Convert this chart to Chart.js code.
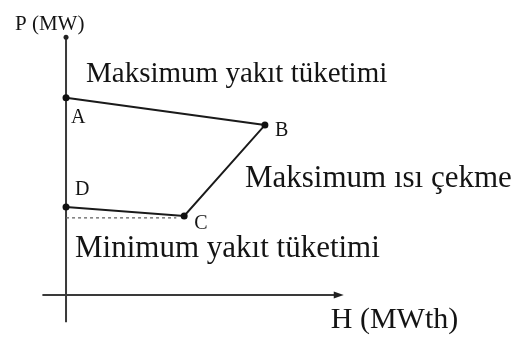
<!DOCTYPE html>
<html>
<head>
<meta charset="utf-8">
<script src="https://cdn.jsdelivr.net/npm/chart.js@4.4.1/dist/chart.umd.min.js"></script>
<style>
  html, body { margin: 0; padding: 0; background: #fff; }
  #wrap { width: 518px; height: 341px; }
</style>
</head>
<body>
<div id="wrap"><canvas id="chart" width="518" height="341"></canvas></div>
<script>
// Operating region corners (H in MWth units, P in MW units)
const pointNames = ['A', 'B', 'C', 'D'];
const heatValues = [0, 101, 60, 0];
const powerValues = [101, 87, 40.5, 45];

// Dashed minimum-fuel guide
const guideHeat = [0, 56];
const guidePower = [39.5, 39.5];

// Axis extents
const axisHeat = [-12, 139];
const axisPower = [-14, 132.5];
const viewHeat = [-31.5, 227.5];
const viewPower = [-21.5, 149];

// Texts
const axisTitles = ['P (MW)', 'H (MWth)'];
const regionTexts = ['Maksimum yakıt tüketimi', 'Maksimum ısı çekme', 'Minimum yakıt tüketimi'];

const serif = '"Liberation Serif", "Times New Roman", serif';
const ink = '#141414';

// Draw axes with arrow tips and all labels
const diagramPlugin = {
    id: 'diagram',
    beforeDatasetsDraw(chart) {
        const ctx = chart.ctx;
        const x = chart.scales.x, y = chart.scales.y;
        const x0 = x.getPixelForValue(0), y0 = y.getPixelForValue(0);
        ctx.save();
        ctx.strokeStyle = '#3a3a3a';
        ctx.lineWidth = 2;
        ctx.beginPath();
        ctx.moveTo(x.getPixelForValue(axisHeat[0]), y0);
        ctx.lineTo(x.getPixelForValue(axisHeat[1]), y0);
        ctx.moveTo(x0, y.getPixelForValue(axisPower[0]));
        ctx.lineTo(x0, y.getPixelForValue(axisPower[1]));
        ctx.stroke();
        // arrow on H axis
        const xe = x.getPixelForValue(axisHeat[1]);
        ctx.fillStyle = '#222';
        ctx.beginPath();
        ctx.moveTo(xe + 4, y0);
        ctx.lineTo(xe - 6, y0 - 3.5);
        ctx.lineTo(xe - 6, y0 + 3.5);
        ctx.closePath();
        ctx.fill();
        // tip on P axis
        const ye = y.getPixelForValue(axisPower[1]);
        ctx.beginPath();
        ctx.arc(x0, ye + 1, 2.5, 0, Math.PI * 2);
        ctx.fill();
        ctx.restore();
    },
    afterDraw(chart) {
        const ctx = chart.ctx;
        const x = chart.scales.x, y = chart.scales.y;
        const meta = chart.getDatasetMeta(0);
        const x0 = x.getPixelForValue(0), y0 = y.getPixelForValue(0);
        ctx.save();
        ctx.fillStyle = ink;
        ctx.textBaseline = 'alphabetic';
        ctx.textAlign = 'left';

        // corner letters
        const offsets = [[5, 25], [10, 11], [10, 13], [9, -12]];
        ctx.font = '20px ' + serif;
        meta.data.forEach((pt, i) => {
            ctx.fillText(pointNames[i], pt.x + offsets[i][0], pt.y + offsets[i][1]);
        });

        // axis titles
        ctx.font = '21px ' + serif;
        ctx.fillText(axisTitles[0], x0 - 51, y.getPixelForValue(axisPower[1]) - 6);
        ctx.font = '30px ' + serif;
        ctx.fillText(axisTitles[1], x.getPixelForValue(axisHeat[1]) - 9, y0 + 33);

        // region texts
        const a = meta.data[0], b = meta.data[1], c = meta.data[2];
        ctx.font = '29px ' + serif;
        ctx.fillText(regionTexts[0], a.x + 20, a.y - 16);
        ctx.font = '31px ' + serif;
        ctx.fillText(regionTexts[1], b.x - 20, b.y + 62);
        ctx.fillText(regionTexts[2], x0 + 9, c.y + 41);
        ctx.restore();
    }
};

new Chart(document.getElementById('chart'), {
    type: 'scatter',
    data: {
        datasets: [
            {
                data: pointNames.map((n, i) => ({ x: heatValues[i], y: powerValues[i] })),
                showLine: true,
                borderColor: '#1a1a1a',
                borderWidth: 2,
                pointRadius: 3.5,
                pointBackgroundColor: '#111',
                pointBorderWidth: 0
            },
            {
                data: guideHeat.map((h, i) => ({ x: h, y: guidePower[i] })),
                showLine: true,
                borderColor: '#666',
                borderWidth: 1.3,
                borderDash: [3, 3],
                pointRadius: 0
            }
        ]
    },
    options: {
        responsive: false,
        animation: false,
        layout: { padding: 0 },
        plugins: {
            legend: { display: false },
            tooltip: { enabled: false }
        },
        scales: {
            x: { type: 'linear', display: false, min: viewHeat[0], max: viewHeat[1] },
            y: { type: 'linear', display: false, min: viewPower[0], max: viewPower[1] }
        }
    },
    plugins: [diagramPlugin]
});
</script>
</body>
</html>
